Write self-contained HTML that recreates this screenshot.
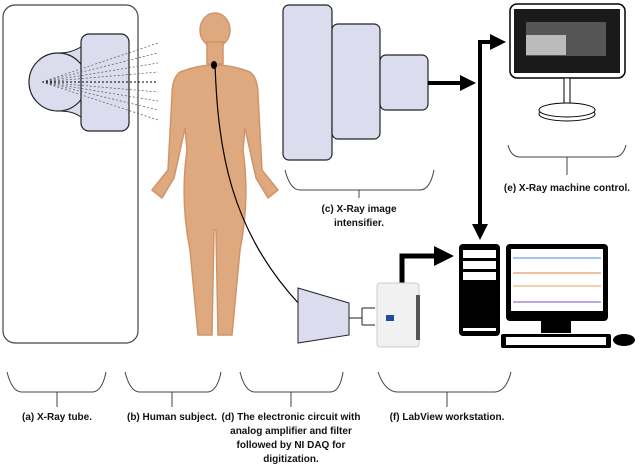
<!DOCTYPE html>
<html><head><meta charset="utf-8"><style>
body{margin:0;background:#fff}
svg{display:block}
text{font-family:"Liberation Sans",sans-serif;font-size:10px;font-weight:bold;fill:#111;text-anchor:middle}
</style></head><body>
<svg width="640" height="470" viewBox="0 0 640 470">
<defs><marker id="ah" markerWidth="4" markerHeight="4" refX="2" refY="2" orient="auto" markerUnits="strokeWidth"><path d="M0,0L4,2L0,4z" fill="#000"/></marker></defs>
<!-- X-ray tube -->
<rect x="3" y="5" width="135" height="338" rx="12" fill="#fff" stroke="#444" stroke-width="1.2"/>
<path d="M58,53 C70,53 75,50 81,48 L81,116 C75,113 70,111 58,111 Z" fill="#dcdcef"/>
<path d="M58,53 C70,53 75,50 81,47 M58,111 C70,111 75,113 81,117" stroke="#222" fill="none"/>
<circle cx="58" cy="82" r="29" fill="#dcdcef" stroke="#222" stroke-width="1.2"/>
<rect x="81" y="34" width="48" height="97" rx="8" fill="#dcdcef" stroke="#222" stroke-width="1.2"/>
<g stroke="#555" stroke-width="0.7" stroke-dasharray="2,2">
<line x1="42" y1="82" x2="158" y2="43"/><line x1="42" y1="82" x2="158" y2="53"/><line x1="42" y1="82" x2="158" y2="63"/><line x1="42" y1="82" x2="158" y2="72"/><line x1="42" y1="82" x2="158" y2="82" stroke="#000" stroke-width="1"/><line x1="42" y1="82" x2="158" y2="92"/><line x1="42" y1="82" x2="158" y2="101"/><line x1="42" y1="82" x2="158" y2="110"/><line x1="42" y1="82" x2="158" y2="120"/>
</g>
<!-- Human -->
<g fill="#dfa97f" stroke="#d09468" stroke-width="1.5">
<ellipse cx="215" cy="30" rx="15" ry="17"/>
<rect x="207" y="42" width="16" height="22"/>
<path d="M180,72 Q215,58 250,72 Q258,78 258,95 L262,170 L278,190 L268,198 L256,178 L245,128 L243,150 Q250,200 240,250 L232,335 L218,335 L216,230 L214,230 L212,335 L198,335 L190,250 Q180,200 187,150 L185,128 L174,178 L162,198 L152,190 L168,170 L172,95 Q172,78 180,72 Z"/>
</g>
<path d="M215,64 C218,150 230,230 300,305" stroke="#000" stroke-width="1.2" fill="none"/>
<ellipse cx="214" cy="65" rx="3" ry="4" fill="#000"/>
<!-- Intensifier -->
<rect x="283" y="5" width="49" height="155" rx="6" fill="#dcdcef" stroke="#222" stroke-width="1.2"/>
<rect x="332" y="24" width="48" height="115" rx="6" fill="#dcdcef" stroke="#222" stroke-width="1.2"/>
<rect x="380" y="55" width="48" height="55" rx="6" fill="#dcdcef" stroke="#222" stroke-width="1.2"/>
<!-- arrows -->
<line x1="428" y1="83" x2="468" y2="83" stroke="#000" stroke-width="4" marker-end="url(#ah)"/>
<line x1="480" y1="42" x2="480" y2="232" stroke="#000" stroke-width="4" marker-end="url(#ah)"/>
<line x1="478" y1="42" x2="498" y2="42" stroke="#000" stroke-width="4" marker-end="url(#ah)"/>
<path d="M402,283 L402,256 L444,256" stroke="#000" stroke-width="5" fill="none" marker-end="url(#ah)"/>
<!-- X-ray monitor -->
<rect x="510" y="4" width="115" height="74" rx="7" fill="#fff" stroke="#000" stroke-width="1.5"/>
<rect x="514" y="9" width="106" height="64" fill="#1a1a1a"/>
<rect x="526" y="22" width="80" height="34" fill="#555"/>
<rect x="526" y="35" width="40" height="20" fill="#bbb"/>
<rect x="564" y="78" width="6" height="30" fill="#fff" stroke="#000"/>
<ellipse cx="567" cy="114" rx="28" ry="7" fill="#fff" stroke="#000"/>
<ellipse cx="567" cy="110" rx="28" ry="7" fill="#fff" stroke="#000"/>
<!-- Amp + DAQ -->
<path d="M298,288 L349,303 L349,335 L298,343 Z" fill="#dcdcef" stroke="#222"/>
<path d="M349,318 L362,318 M362,308 L362,325 M362,308 L375,308 M362,325 L375,325" stroke="#222" fill="none"/>
<rect x="377" y="283" width="42" height="64" rx="3" fill="#f1f1f1" stroke="#ccc"/>
<rect x="416" y="295" width="4" height="45" fill="#555"/>
<rect x="386" y="315" width="8" height="6" fill="#1b4f9c"/>
<!-- workstation -->
<rect x="459" y="244" width="41" height="92" rx="4" fill="#000"/>
<rect x="463" y="250" width="33" height="8" fill="#fff"/><rect x="463" y="261" width="33" height="8" fill="#fff"/><rect x="463" y="272" width="33" height="8" fill="#fff"/><rect x="463" y="328" width="33" height="3" fill="#fff"/>
<rect x="506" y="244" width="102" height="77" rx="4" fill="#000"/>
<rect x="511" y="249" width="92" height="62" fill="#fff"/>
<line x1="513" y1="258" x2="601" y2="258" stroke="#4a8bd0"/>
<line x1="513" y1="273" x2="601" y2="273" stroke="#e08040"/>
<line x1="513" y1="286" x2="601" y2="286" stroke="#e8a060"/>
<line x1="513" y1="302" x2="601" y2="302" stroke="#8050b0"/>
<rect x="541" y="321" width="30" height="12" fill="#000"/>
<rect x="501" y="334" width="110" height="14" rx="2" fill="#000"/>
<rect x="506" y="337" width="100" height="8" fill="#fff"/>
<ellipse cx="624" cy="340" rx="11" ry="6" fill="#000"/>
<!-- brackets -->
<g stroke="#444" stroke-width="1" fill="none">
<path d="M285,170 Q290,190 300,190 L420,190 Q430,190 434,170 M359,190 L359,198"/>
<path d="M508,145 Q511,157 520,157 L614,157 Q623,157 626,145 M567,157 L567,175"/>
<path d="M7,372 Q12,392 22,392 L92,392 Q102,392 106,372 M57,392 L57,407"/>
<path d="M125,372 Q130,392 140,392 L207,392 Q217,392 221,372 M172,392 L172,407"/>
<path d="M240,372 Q245,392 255,392 L330,392 Q340,392 343,372 M291,392 L291,407"/>
<path d="M378,372 Q385,392 398,392 L494,392 Q506,392 511,372 M447,392 L447,407"/>
</g>
<text x="359" y="212">(c) X-Ray image</text>
<text x="359" y="226">intensifier.</text>
<text x="567" y="191">(e) X-Ray machine control.</text>
<text x="57" y="420">(a) X-Ray tube.</text>
<text x="172" y="420">(b) Human subject.</text>
<text x="291" y="420">(d) The electronic circuit with</text>
<text x="291" y="434">analog amplifier and filter</text>
<text x="291" y="448">followed by NI DAQ for</text>
<text x="291" y="462">digitization.</text>
<text x="447" y="420">(f) LabView workstation.</text>
</svg>
</body></html>
